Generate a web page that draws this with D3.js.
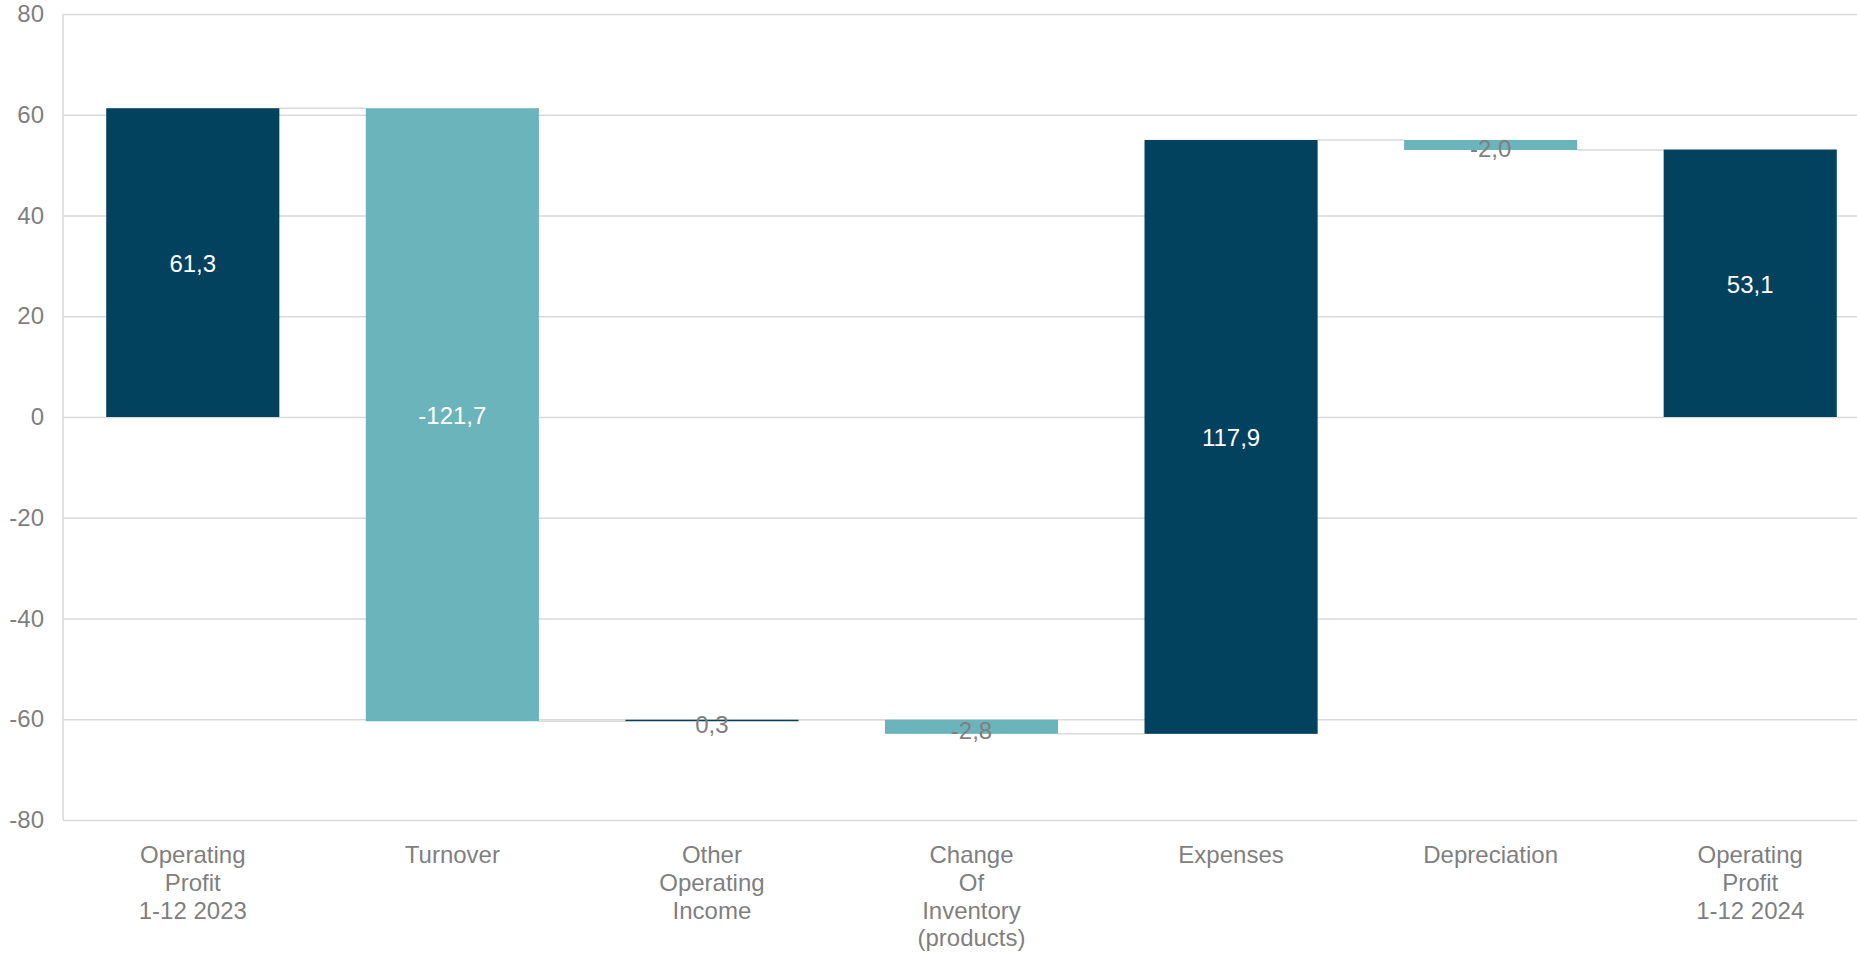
<!DOCTYPE html>
<html>
<head>
<meta charset="utf-8">
<script src="https://cdn.jsdelivr.net/npm/d3@7"></script>
<style>
  html, body { margin: 0; padding: 0; background: #fff; overflow: hidden; }
  svg { display: block; font-family: "Liberation Sans", Arial, sans-serif; }
</style>
</head>
<body>
<svg id="chart" width="1857" height="954"></svg>
<script>
// Operating profit bridge 2023 -> 2024
const categories = [
  "Operating\nProfit\n1-12 2023",
  "Turnover",
  "Other\nOperating\nIncome",
  "Change\nOf\nInventory\n(products)",
  "Expenses",
  "Depreciation",
  "Operating\nProfit\n1-12 2024"
];
const values = [61.3, -121.7, 0.3, -2.8, 117.9, -2.0, 53.1];
const isTotal = [true, false, false, false, false, false, true];
const yTicks = [-80, -60, -40, -20, 0, 20, 40, 60, 80];

const colors = { up: "#02425F", down: "#6CB4BB", total: "#02425F" };
const grid = "#D9D9D9";
const textGrey = "#7F7F7F";

const fmt = d3.formatLocale({ decimal: ",", thousands: ".", grouping: [3], currency: ["", ""], minus: "-" }).format(".1f");

// running totals -> floating segments
let run = 0;
const bars = categories.map((c, i) => {
  let y0, y1;
  if (isTotal[i]) { y0 = 0; y1 = values[i]; run = values[i]; }
  else { y0 = run; y1 = run + values[i]; run = y1; }
  return { cat: c, value: values[i], y0, y1, end: run, total: isTotal[i] };
});

const svg = d3.select("#chart");
const plotLeft = 63, plotRight = 1880, plotTop = 14, plotBottom = 820;

const x = d3.scaleBand().domain(categories).range([plotLeft, plotRight])
  .paddingInner(0.333).paddingOuter(0.1665);
const y = d3.scaleLinear().domain([-80, 80]).range([plotBottom, plotTop]);

// horizontal gridlines + tick labels
const yAxis = svg.append("g")
  .attr("transform", `translate(${plotLeft},0)`)
  .call(d3.axisLeft(y).tickValues(yTicks).tickSize(-(1857 - plotLeft)).tickPadding(19)
    .tickFormat(d => String(d)));
yAxis.select(".domain").remove();
yAxis.selectAll(".tick line").attr("stroke", grid).attr("stroke-width", 1.5);
yAxis.selectAll(".tick text")
  .attr("fill", textGrey).attr("font-size", 24)
  .attr("font-family", "Liberation Sans, Arial, sans-serif");

// vertical axis line
svg.append("line")
  .attr("x1", plotLeft).attr("x2", plotLeft)
  .attr("y1", y(80)).attr("y2", y(-80))
  .attr("stroke", grid).attr("stroke-width", 1.5);

// connectors between consecutive bars
svg.append("g").selectAll("line")
  .data(bars.slice(0, -1))
  .join("line")
  .attr("x1", (d, i) => x(categories[i]) + x.bandwidth())
  .attr("x2", (d, i) => x(categories[i + 1]))
  .attr("y1", d => y(d.end)).attr("y2", d => y(d.end))
  .attr("stroke", grid).attr("stroke-width", 1.5);

// bars
svg.append("g").selectAll("rect")
  .data(bars)
  .join("rect")
  .attr("x", d => x(d.cat))
  .attr("width", x.bandwidth())
  .attr("y", d => y(Math.max(d.y0, d.y1)))
  .attr("height", d => Math.abs(y(d.y0) - y(d.y1)))
  .attr("fill", d => d.total ? colors.total : (d.value >= 0 ? colors.up : colors.down));

// value labels
svg.append("g").selectAll("text")
  .data(bars)
  .join("text")
  .attr("x", d => x(d.cat) + x.bandwidth() / 2)
  .attr("y", d => {
    const mid = y((d.y0 + d.y1) / 2);
    return Math.abs(y(d.y0) - y(d.y1)) > 40 ? mid + 1 : mid + 4;
  })
  .attr("text-anchor", "middle")
  .attr("dominant-baseline", "central")
  .attr("font-size", 24)
  .attr("fill", d => Math.abs(y(d.y0) - y(d.y1)) > 40 ? "#FFFFFF" : textGrey)
  .text(d => fmt(d.value));

// category labels
const catG = svg.append("g");
categories.forEach(c => {
  const t = catG.append("text")
    .attr("x", x(c) + x.bandwidth() / 2)
    .attr("y", 863)
    .attr("text-anchor", "middle")
    .attr("font-size", 24)
    .attr("fill", textGrey);
  c.split("\n").forEach((line, j) => {
    t.append("tspan")
      .attr("x", x(c) + x.bandwidth() / 2)
      .attr("dy", j === 0 ? 0 : 27.8)
      .text(line);
  });
});
</script>
</body>
</html>
